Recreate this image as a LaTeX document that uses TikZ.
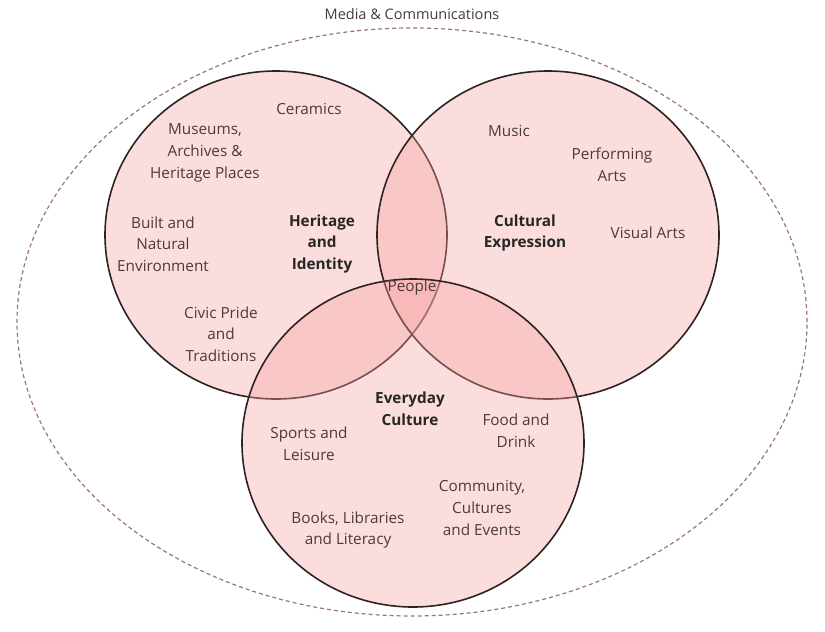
\documentclass[tikz,border=0pt]{standalone}
\usepackage{fontspec}
\setmainfont{Open Sans}
\usetikzlibrary{shapes.geometric}
\definecolor{ringline}{HTML}{2E2222}
\definecolor{ringfill}{HTML}{F7A0A0}
\definecolor{txt}{HTML}{4A3A3A}
\definecolor{dashc}{HTML}{9A7478}
\tikzset{
  ring/.style={ellipse, draw=ringline, line width=1.6pt, fill=ringfill, fill opacity=0.36,
    draw opacity=1, minimum width=342pt, minimum height=328pt, inner sep=0pt},
  lbl/.style={font=\fontsize{15.3}{21.7}\selectfont, text=txt, align=center, inner sep=0pt},
  head/.style={lbl, font=\fontsize{15.3}{21.7}\selectfont\bfseries, text=black!85}
}
\begin{document}
\begin{tikzpicture}[x=1pt,y=-1pt]
\useasboundingbox (0,0) rectangle (825,632);
\node[ellipse, draw=dashc, dash pattern=on 4pt off 3pt, line width=1.2pt,
  minimum width=790pt, minimum height=588pt, inner sep=0pt] (media) at (412,322) {};
\node[lbl, font=\fontsize{14.5}{16}\selectfont] (mediat) at (412,14) {Media \& Communications};
\node[ring] (heritage) at (276,235) {};
\node[ring] (cultural) at (548,235) {};
\node[ring] (everyday) at (413,443) {};
\node[lbl] (ceramics) at (309,109) {Ceramics};
\node[lbl] (museums) at (205,153) {Museums,\\Archives \&\\Heritage Places};
\node[lbl] (built) at (163,244) {Built and\\Natural\\Environment};
\node[head] (hid) at (322,244) {Heritage\\and\\Identity};
\node[lbl] (civic) at (221,334) {Civic Pride\\and\\Traditions};
\node[lbl] (music) at (509,131) {Music};
\node[lbl] (perf) at (612,165) {Performing\\Arts};
\node[lbl] (visual) at (648,233) {Visual Arts};
\node[head] (cexp) at (525,233) {Cultural\\Expression};
\node[lbl] (people) at (412,288) {People};
\node[head] (ecul) at (410,409) {Everyday\\Culture};
\node[lbl] (food) at (516,431) {Food and\\Drink};
\node[lbl] (sports) at (309,444) {Sports and\\Leisure};
\node[lbl] (comm) at (482,508) {Community,\\Cultures\\and Events};
\node[lbl] (books) at (348,530) {Books, Libraries\\and Literacy};
\end{tikzpicture}
\end{document}
